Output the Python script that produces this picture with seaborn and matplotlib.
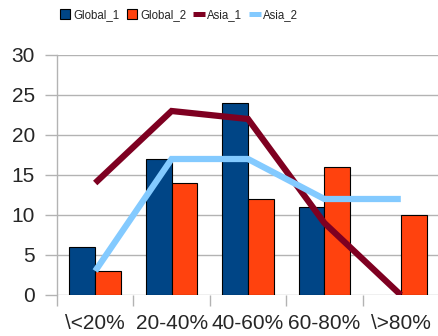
import numpy as np
import pandas as pd
import matplotlib
matplotlib.use("Agg")
import matplotlib.pyplot as plt
import seaborn as sns
from matplotlib.lines import Line2D

categories = ["\\<20%", "20-40%", "40-60%", "60-80%", "\\>80%"]
global_1 = [6, 17, 24, 11, np.nan]
global_2 = [3, 14, 12, 16, 10]
asia_1 = [14, 23, 22, 9, 0]
asia_2 = [3, 17, 17, 12, 12]

colors = {"Global_1": "#004586", "Global_2": "#ff420e",
          "Asia_1": "#7e0021", "Asia_2": "#83caff"}

sns.set_style("white")
plt.rcParams["font.family"] = ["Liberation Sans", "DejaVu Sans"]

bars = pd.DataFrame({
    "cat": categories * 2,
    "value": global_1 + global_2,
    "series": ["Global_1"] * 5 + ["Global_2"] * 5,
})
lines = pd.DataFrame({
    "pos": list(range(5)) * 2,
    "value": asia_1 + asia_2,
    "series": ["Asia_1"] * 5 + ["Asia_2"] * 5,
})

fig = plt.figure(figsize=(4.39, 3.36), dpi=100)
ax = fig.add_axes([57 / 439, 41 / 336, 382 / 439, 240 / 336])

sns.barplot(data=bars, x="cat", y="value", hue="series", palette=colors,
            width=0.675, edgecolor="black", linewidth=0.8, saturation=1,
            ax=ax, legend=False, zorder=3)
sns.lineplot(data=lines, x="pos", y="value", hue="series", palette=colors,
             linewidth=4.5, ax=ax, legend=False, zorder=4)
for l in ax.lines:
    l.set_solid_capstyle("butt")
    l.set_solid_joinstyle("miter")

ax.set_xlim(-0.5, -0.5 + 382 / 77)
ax.set_ylim(0, 30)
ax.set_yticks(range(0, 31, 5))
ax.set_xticks(range(5))
ax.set_xticklabels(categories)
ax.set_xticks(np.arange(-0.5, 5, 1), minor=True)
ax.set_xlabel("")
ax.set_ylabel("")

ax.grid(axis="y", color="#b3b3b3", linewidth=1, zorder=0)
ax.set_axisbelow(True)
for s in ["top", "right", "bottom"]:
    ax.spines[s].set_visible(False)
ax.spines["left"].set_color("#b3b3b3")
ax.spines["left"].set_linewidth(1)

ax.tick_params(axis="y", which="major", length=9, color="#b3b3b3",
               width=1, labelsize=15, pad=7, left=True)
ax.tick_params(axis="x", which="major", length=0, labelsize=15, pad=14)
ax.tick_params(axis="x", which="minor", length=8, color="#b3b3b3",
               width=1, bottom=True)

# legend: squares for the bar series, short thick strokes for the lines
handles = [
    Line2D([], [], linestyle="none", marker="s", markersize=6.5,
           markerfacecolor=colors["Global_1"], markeredgecolor="black",
           markeredgewidth=0.8),
    Line2D([], [], linestyle="none", marker="s", markersize=6.5,
           markerfacecolor=colors["Global_2"], markeredgecolor="black",
           markeredgewidth=0.8),
    Line2D([], [], color=colors["Asia_1"], linewidth=3.6, solid_capstyle="butt"),
    Line2D([], [], color=colors["Asia_2"], linewidth=3.6, solid_capstyle="butt"),
]
fig.legend(handles, list(colors.keys()), loc="center left",
           bbox_to_anchor=(59 / 439, 1 - 15 / 336), ncol=4, frameon=False,
           fontsize=8.3, handlelength=1.05, handletextpad=0.2,
           columnspacing=0.55, borderaxespad=0, borderpad=0)

fig.savefig("out.png", dpi=100)
